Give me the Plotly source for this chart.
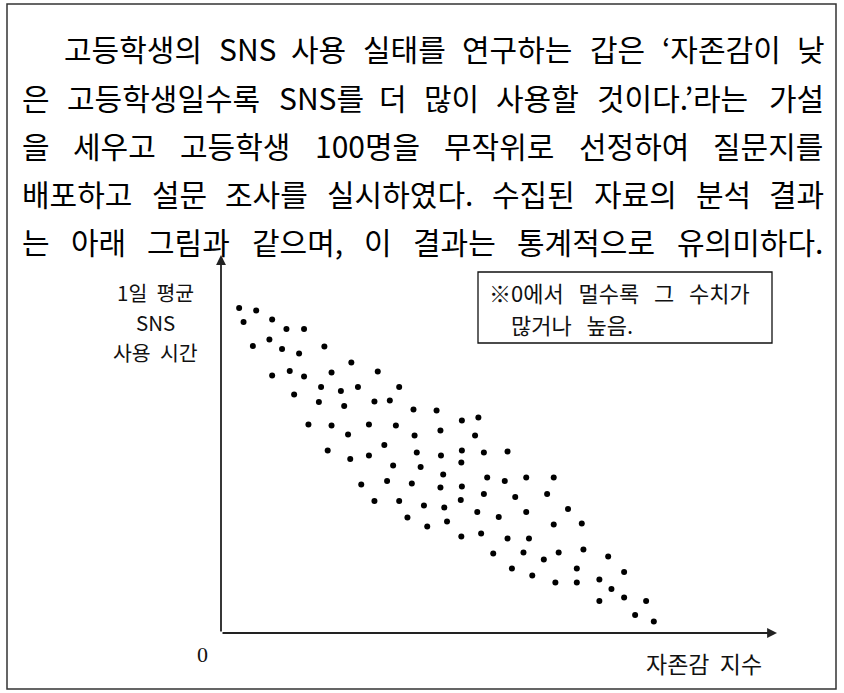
import plotly.graph_objects as go

# ---- data: self-esteem index vs daily SNS time ----
esteem = [3.3, 6.4, 4.1, 9.3, 11.9, 15.1, 8.8, 5.8, 11.1, 14.2,
          18.8, 9.3, 12.5, 15.1, 20.1, 18.2, 21.8, 13.3, 17.8, 22.4,
          23.7, 28.5, 24.9, 32.4, 27.9, 30.7, 35.0, 39.2, 15.9, 20.1,
          23.1, 26.9, 31.8, 19.4, 23.5, 26.9, 29.7, 31.3, 25.5, 30.2,
          27.9, 32.4, 33.9, 43.8, 46.8, 35.2, 39.9, 46.2, 35.6, 40.0,
          43.8, 47.8, 52.1, 43.7, 36.3, 40.4, 48.4, 51.6, 55.5, 34.7,
          39.9, 43.8, 47.8, 53.5, 36.9, 40.6, 43.6, 46.6, 50.5, 55.5,
          37.5, 41.1, 43.7, 47.3, 60.5, 59.3, 63.1, 60.5, 65.6, 52.1,
          56.0, 49.5, 55.0, 52.9, 58.7, 61.4, 65.9, 70.4, 56.6, 60.8,
          64.7, 64.7, 68.8, 73.3, 71.0, 68.8, 73.3, 77.3, 75.3, 78.7]
sns_time = [65.0, 64.5, 62.2, 62.7, 60.8, 60.8, 58.7, 57.4, 56.8, 55.9,
            57.3, 51.5, 52.4, 51.3, 52.1, 49.2, 48.4, 47.7, 46.2, 45.4,
            54.1, 52.3, 49.2, 49.2, 46.3, 46.5, 44.7, 44.5, 41.7, 41.5,
            39.7, 41.7, 41.5, 36.5, 34.8, 35.5, 37.6, 33.5, 29.7, 30.4,
            26.4, 26.4, 23.1, 42.5, 43.1, 39.5, 40.5, 39.5, 36.1, 35.5,
            36.5, 36.1, 36.3, 34.1, 33.2, 31.7, 31.1, 30.4, 31.1, 29.9,
            29.1, 29.3, 27.8, 27.2, 25.5, 25.1, 26.6, 24.2, 23.2, 24.2,
            21.3, 22.3, 19.3, 19.9, 31.1, 27.8, 24.8, 21.7, 21.9, 18.9,
            18.9, 15.9, 16.1, 12.9, 14.7, 16.1, 16.7, 15.3, 11.5, 10.1,
            10.1, 12.9, 10.7, 12.2, 8.8, 6.4, 7.1, 6.4, 3.6, 2.3]

paragraph = [
    "고등학생의 SNS 사용 실태를 연구하는 갑은 ‘자존감이 낮",
    "은 고등학생일수록 SNS를 더 많이 사용할 것이다.’라는 가설",
    "을 세우고 고등학생 100명을 무작위로 선정하여 질문지를",
    "배포하고 설문 조사를 실시하였다. 수집된 자료의 분석 결과",
    "는 아래 그림과 같으며, 이 결과는 통계적으로 유의미하다.",
]
y_label = ["1일 평균", "SNS", "사용 시간"]
x_label = "자존감 지수"
origin_label = "0"
note_lines = ["※0에서 멀수록 그 수치가", "많거나 높음."]

W, H = 844, 693
X_MAX, Y_MAX = 101.1, 75

def px(x):
    return x / W

def py(y):
    return 1 - y / H

fig = go.Figure()
fig.add_trace(go.Scatter(
    x=esteem, y=sns_time, mode="markers",
    marker=dict(size=6, color="black"), hoverinfo="skip", showlegend=False,
))

KFONT = "Noto Sans CJK KR"
annotations = []

# justified paragraph, word by word
FS = 30
def est_width(word):
    w = 0.0
    for ch in word:
        o = ord(ch)
        if 0xAC00 <= o <= 0xD7A3:
            w += 0.93
        elif ch in ".,’‘":
            w += 0.27
        elif ch.isdigit():
            w += 0.55
        elif ch.isupper():
            w += 0.62
        else:
            w += 0.5
    return w * FS

line_y = [48, 97, 145, 193, 241]
for i, line in enumerate(paragraph):
    words = line.split(" ")
    left = 62 if i == 0 else 20
    right = 823
    widths = [est_width(w) for w in words]
    gap = (right - left - sum(widths)) / (len(words) - 1)
    xcur = left
    for w, wd in zip(words, widths):
        annotations.append(dict(
            x=px(xcur), y=py(line_y[i]), xref="paper", yref="paper",
            xanchor="left", yanchor="middle", showarrow=False, text=w,
            font=dict(family=KFONT, size=FS, color="#000"),
        ))
        xcur += wd + gap

# y-axis label (one text per line)
for t, yy in zip(y_label, [292, 322, 352]):
    annotations.append(dict(
        x=px(155), y=py(yy), xref="paper", yref="paper", xanchor="center",
        yanchor="middle", showarrow=False, text=t.replace(" ", "\u00a0\u00a0"),
        font=dict(family=KFONT, size=20.5, color="#111"),
    ))
annotations.append(dict(
    x=px(704), y=py(663), xref="paper", yref="paper", xanchor="center",
    yanchor="middle", showarrow=False, text=x_label.replace(" ", "\u00a0\u00a0"),
    font=dict(family=KFONT, size=23, color="#111"),
))
annotations.append(dict(
    x=px(202), y=py(654), xref="paper", yref="paper", xanchor="center",
    yanchor="middle", showarrow=False, text=origin_label,
    font=dict(family="Liberation Serif", size=22, color="#111"),
))
# note box text
WIDE = "\u00a0\u00a0\u00a0"
annotations.append(dict(
    x=px(487), y=py(292), xref="paper", yref="paper", xanchor="left",
    yanchor="middle", showarrow=False, text=note_lines[0].replace(" ", WIDE),
    font=dict(family=KFONT, size=22, color="#111"),
))
annotations.append(dict(
    x=px(509), y=py(324), xref="paper", yref="paper", xanchor="left",
    yanchor="middle", showarrow=False, text=note_lines[1].replace(" ", WIDE),
    font=dict(family=KFONT, size=22, color="#111"),
))
# axes with arrows
annotations.append(dict(
    x=0, y=Y_MAX + 0.6, ax=0, ay=0, xref="x", yref="y", axref="x", ayref="y",
    showarrow=True, arrowhead=2, arrowsize=1.1, arrowwidth=1.8,
    arrowcolor="#222", text="",
))
annotations.append(dict(
    x=X_MAX, y=0, ax=0, ay=0, xref="x", yref="y", axref="x", ayref="y",
    showarrow=True, arrowhead=2, arrowsize=1.1, arrowwidth=1.8,
    arrowcolor="#222", text="",
))

shapes = [
    dict(type="rect", xref="paper", yref="paper", x0=px(7), x1=px(836),
         y0=py(689), y1=py(4), line=dict(color="#333", width=1.5)),
    dict(type="rect", xref="paper", yref="paper", x0=px(478), x1=px(772),
         y0=py(343), y1=py(272), line=dict(color="#111", width=1.3)),
]

fig.update_layout(
    width=W, height=H, margin=dict(l=0, r=0, t=0, b=0),
    paper_bgcolor="white", plot_bgcolor="white",
    xaxis=dict(domain=[221 / W, 777 / W], range=[0, X_MAX], visible=False),
    yaxis=dict(domain=[1 - 633 / H, 1 - 258 / H], range=[0, Y_MAX], visible=False),
    annotations=annotations, shapes=shapes, showlegend=False,
)

fig.write_html("out.html", config={"displayModeBar": False},
               post_script="document.body.style.margin='0px';")
